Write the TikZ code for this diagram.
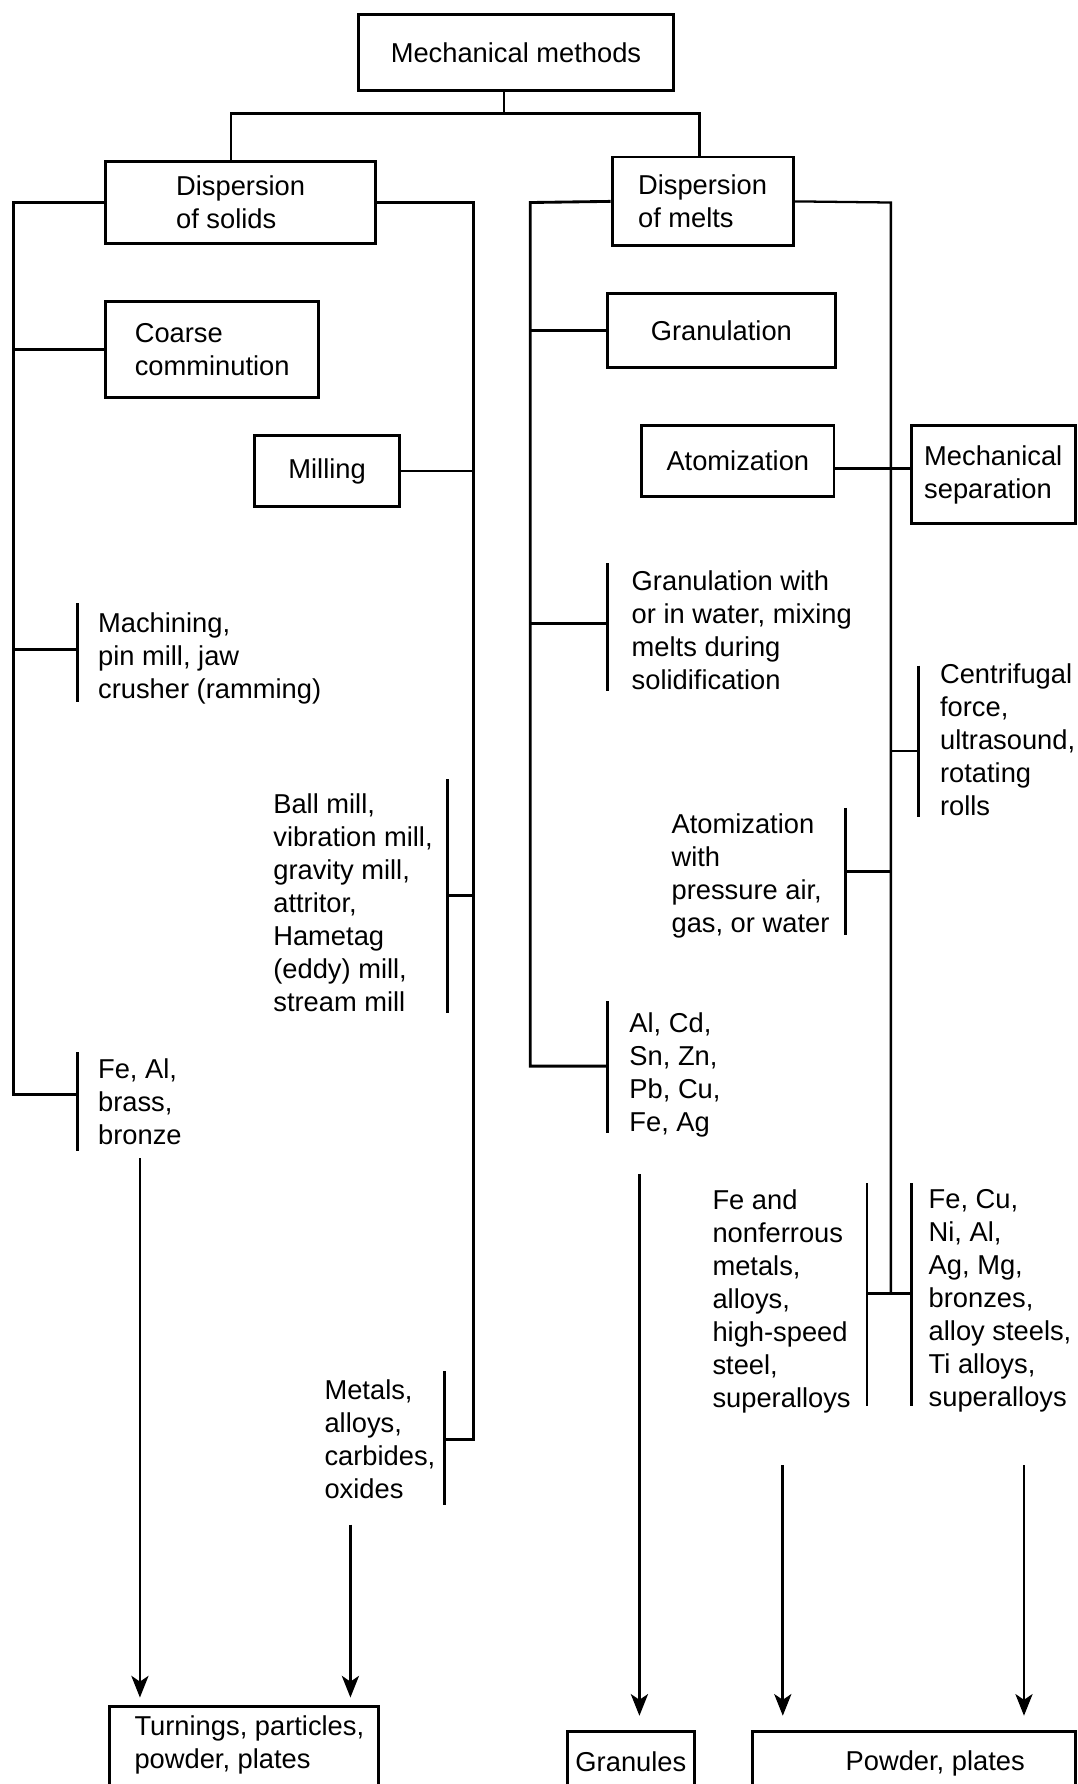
\documentclass[tikz,border=0pt]{standalone}
\usepackage{fontspec}
\setmainfont{Liberation Sans}
\usetikzlibrary{arrows.meta}
\newcommand\myfs{\fontsize{24}{29}\selectfont}
\begin{document}
\begin{tikzpicture}[x=1pt,y=-1pt,line width=2.5pt,
  box/.style={draw,line width=2.6pt,inner sep=0pt,align=left,font=\myfs},
  txt/.style={anchor=north west,inner sep=0pt,align=left,font=\myfs},
  arr/.style={-{Stealth[length=19pt,width=15pt,inset=5pt]},line width=2.5pt},
  thin/.style={line width=2pt}]
\useasboundingbox (0,0) rectangle (947,1568);
\clip (0,0) rectangle (947,1568);

% ---------- boxes ----------
\node[box,minimum width=277pt,minimum height=67pt] (mm) at (453.5,46) {Mechanical methods};
\node[box,minimum width=237pt,minimum height=72pt] (ds) at (211.5,178) {Dispersion\\of solids};
\node[box,minimum width=187pt,minimum height=84pt] (cc) at (186.5,307) {Coarse\\comminution};
\node[box,minimum width=127pt,minimum height=62pt] (mil) at (287.5,414) {Milling};
\node[box,minimum width=159pt,minimum height=78pt] (dm) at (617.5,177) {Dispersion\\of melts};
\node[box,minimum width=200pt,minimum height=65pt] (gr) at (634,290.5) {Granulation};
\node[box,minimum width=169pt,minimum height=62pt] (at) at (648.5,405) {Atomization};
\node[box,minimum width=144pt,minimum height=86pt] (ms) at (873,417) {Mechanical\\separation};

% ---------- text blocks ----------
\node[txt] (mach) at (85,537) {Machining,\\pin mill, jaw\\crusher (ramming)};
\node[txt] (ball) at (239,696) {Ball mill,\\vibration mill,\\gravity mill,\\attritor,\\Hametag\\(eddy) mill,\\stream mill};
\node[txt] (feal) at (85,929) {Fe, Al,\\brass,\\bronze};
\node[txt] (met) at (284,1211) {Metals,\\alloys,\\carbides,\\oxides};
\node[txt] (gw) at (554,500) {Granulation with\\or in water, mixing\\melts during\\solidification};
\node[txt] (cf) at (825,582) {Centrifugal\\force,\\ultrasound,\\rotating\\rolls};
\node[txt] (aw) at (589,714) {Atomization\\with\\pressure air,\\gas, or water};
\node[txt] (alcd) at (552,889) {Al, Cd,\\Sn, Zn,\\Pb, Cu,\\Fe, Ag};
\node[txt] (fen) at (625,1044) {Fe and\\nonferrous\\metals,\\alloys,\\high-speed\\steel,\\superalloys};
\node[txt] (fecu) at (815,1044) {Fe, Cu,\\Ni, Al,\\Ag, Mg,\\bronzes,\\alloy steels,\\Ti alloys,\\superalloys};

% ---------- bottom (open) boxes ----------
\draw[line width=2.6pt] (96,1600) -- (96,1500) -- (333,1500) -- (333,1600);
\draw[line width=2.6pt] (499,1600) -- (499,1522) -- (610,1522) -- (610,1600);
\draw[line width=2.6pt] (661,1600) -- (661,1522) -- (945,1522) -- (945,1600);
\node[txt] (turn) at (117,1507) {Turnings, particles,\\powder, plates};
\node[anchor=center,inner sep=0pt,font=\myfs] (gran) at (554.5,1548) {Granules};
\node[anchor=west,inner sep=0pt,font=\myfs] (pow) at (742,1550) {Powder, plates};

% ---------- coordinates ----------
\coordinate (top) at (443,100);
\coordinate (hl) at (203,100);
\coordinate (hr) at (615,100);
\coordinate (sL) at (12,178);
\coordinate (sR) at (416,178);
\coordinate (mL) at (466,178);
\coordinate (mR) at (783,178);
\coordinate (jmach) at (68,571);
\coordinate (jfeal) at (68,962);
\coordinate (jball) at (393,787);
\coordinate (jmet) at (391,1265);
\coordinate (jgw) at (534,548);
\coordinate (jalcd) at (534,937);
\coordinate (jcf) at (807,660);
\coordinate (jaw) at (743,766);
\coordinate (jfen) at (762,1137);
\coordinate (jfecu) at (801,1137);
\coordinate (yat) at (0,412);

% ---------- top tree ----------
\draw (mm.south -| top) -- (top);
\draw (hl |- ds.north) -- (hl) -- (hr) -- (hr |- dm.north);

% ---------- solids ----------
\draw (ds.west) -- (sL) -- (sL |- jfeal) -- (jfeal);
\draw (ds.east) -- (sR) -- (sR |- jmet) -- (jmet);
\draw (sL |- cc.west) -- (cc.west);
\draw (mil.east) -- (sR |- mil.east);
\draw (sL |- jmach) -- (jmach);
\draw (jball) -- (sR |- jball);
% brackets
\draw (68,530) -- (68,617);
\draw (68,925) -- (68,1012);
\draw (393,685) -- (393,890);
\draw (391,1205) -- (391,1323);

% ---------- melts ----------
\draw (dm.west) -- (mL) -- (mL |- jalcd) -- (jalcd);
\draw[thin] (dm.east) -- (mR) -- (mR |- jfen);
\draw (mL |- gr.west) -- (gr.west);
\draw (mL |- jgw) -- (jgw);
\draw (at.east |- yat) -- (ms.west |- yat);
\draw (mR |- jcf) -- (jcf);
\draw (jaw) -- (mR |- jaw);
\draw (jfen) -- (jfecu);
% brackets
\draw (534,495) -- (534,607);
\draw (534,880) -- (534,996);
\draw (807,585) -- (807,718);
\draw (743,710) -- (743,822);
\draw (762,1040) -- (762,1236);
\draw (801,1040) -- (801,1236);

% ---------- arrows ----------
\coordinate (a1s) at (123,1018); \coordinate (a1e) at (123,1492);
\coordinate (a2s) at (308,1340); \coordinate (a2e) at (308,1492);
\coordinate (a3s) at (562,1032); \coordinate (a3e) at (562,1508);
\coordinate (a4s) at (688,1288); \coordinate (a4e) at (688,1508);
\coordinate (a5s) at (900,1288); \coordinate (a5e) at (900,1508);
\draw[arr] (a1s) -- (a1e);
\draw[arr] (a2s) -- (a2e);
\draw[arr] (a3s) -- (a3e);
\draw[arr] (a4s) -- (a4e);
\draw[arr] (a5s) -- (a5e);
\end{tikzpicture}
\end{document}
